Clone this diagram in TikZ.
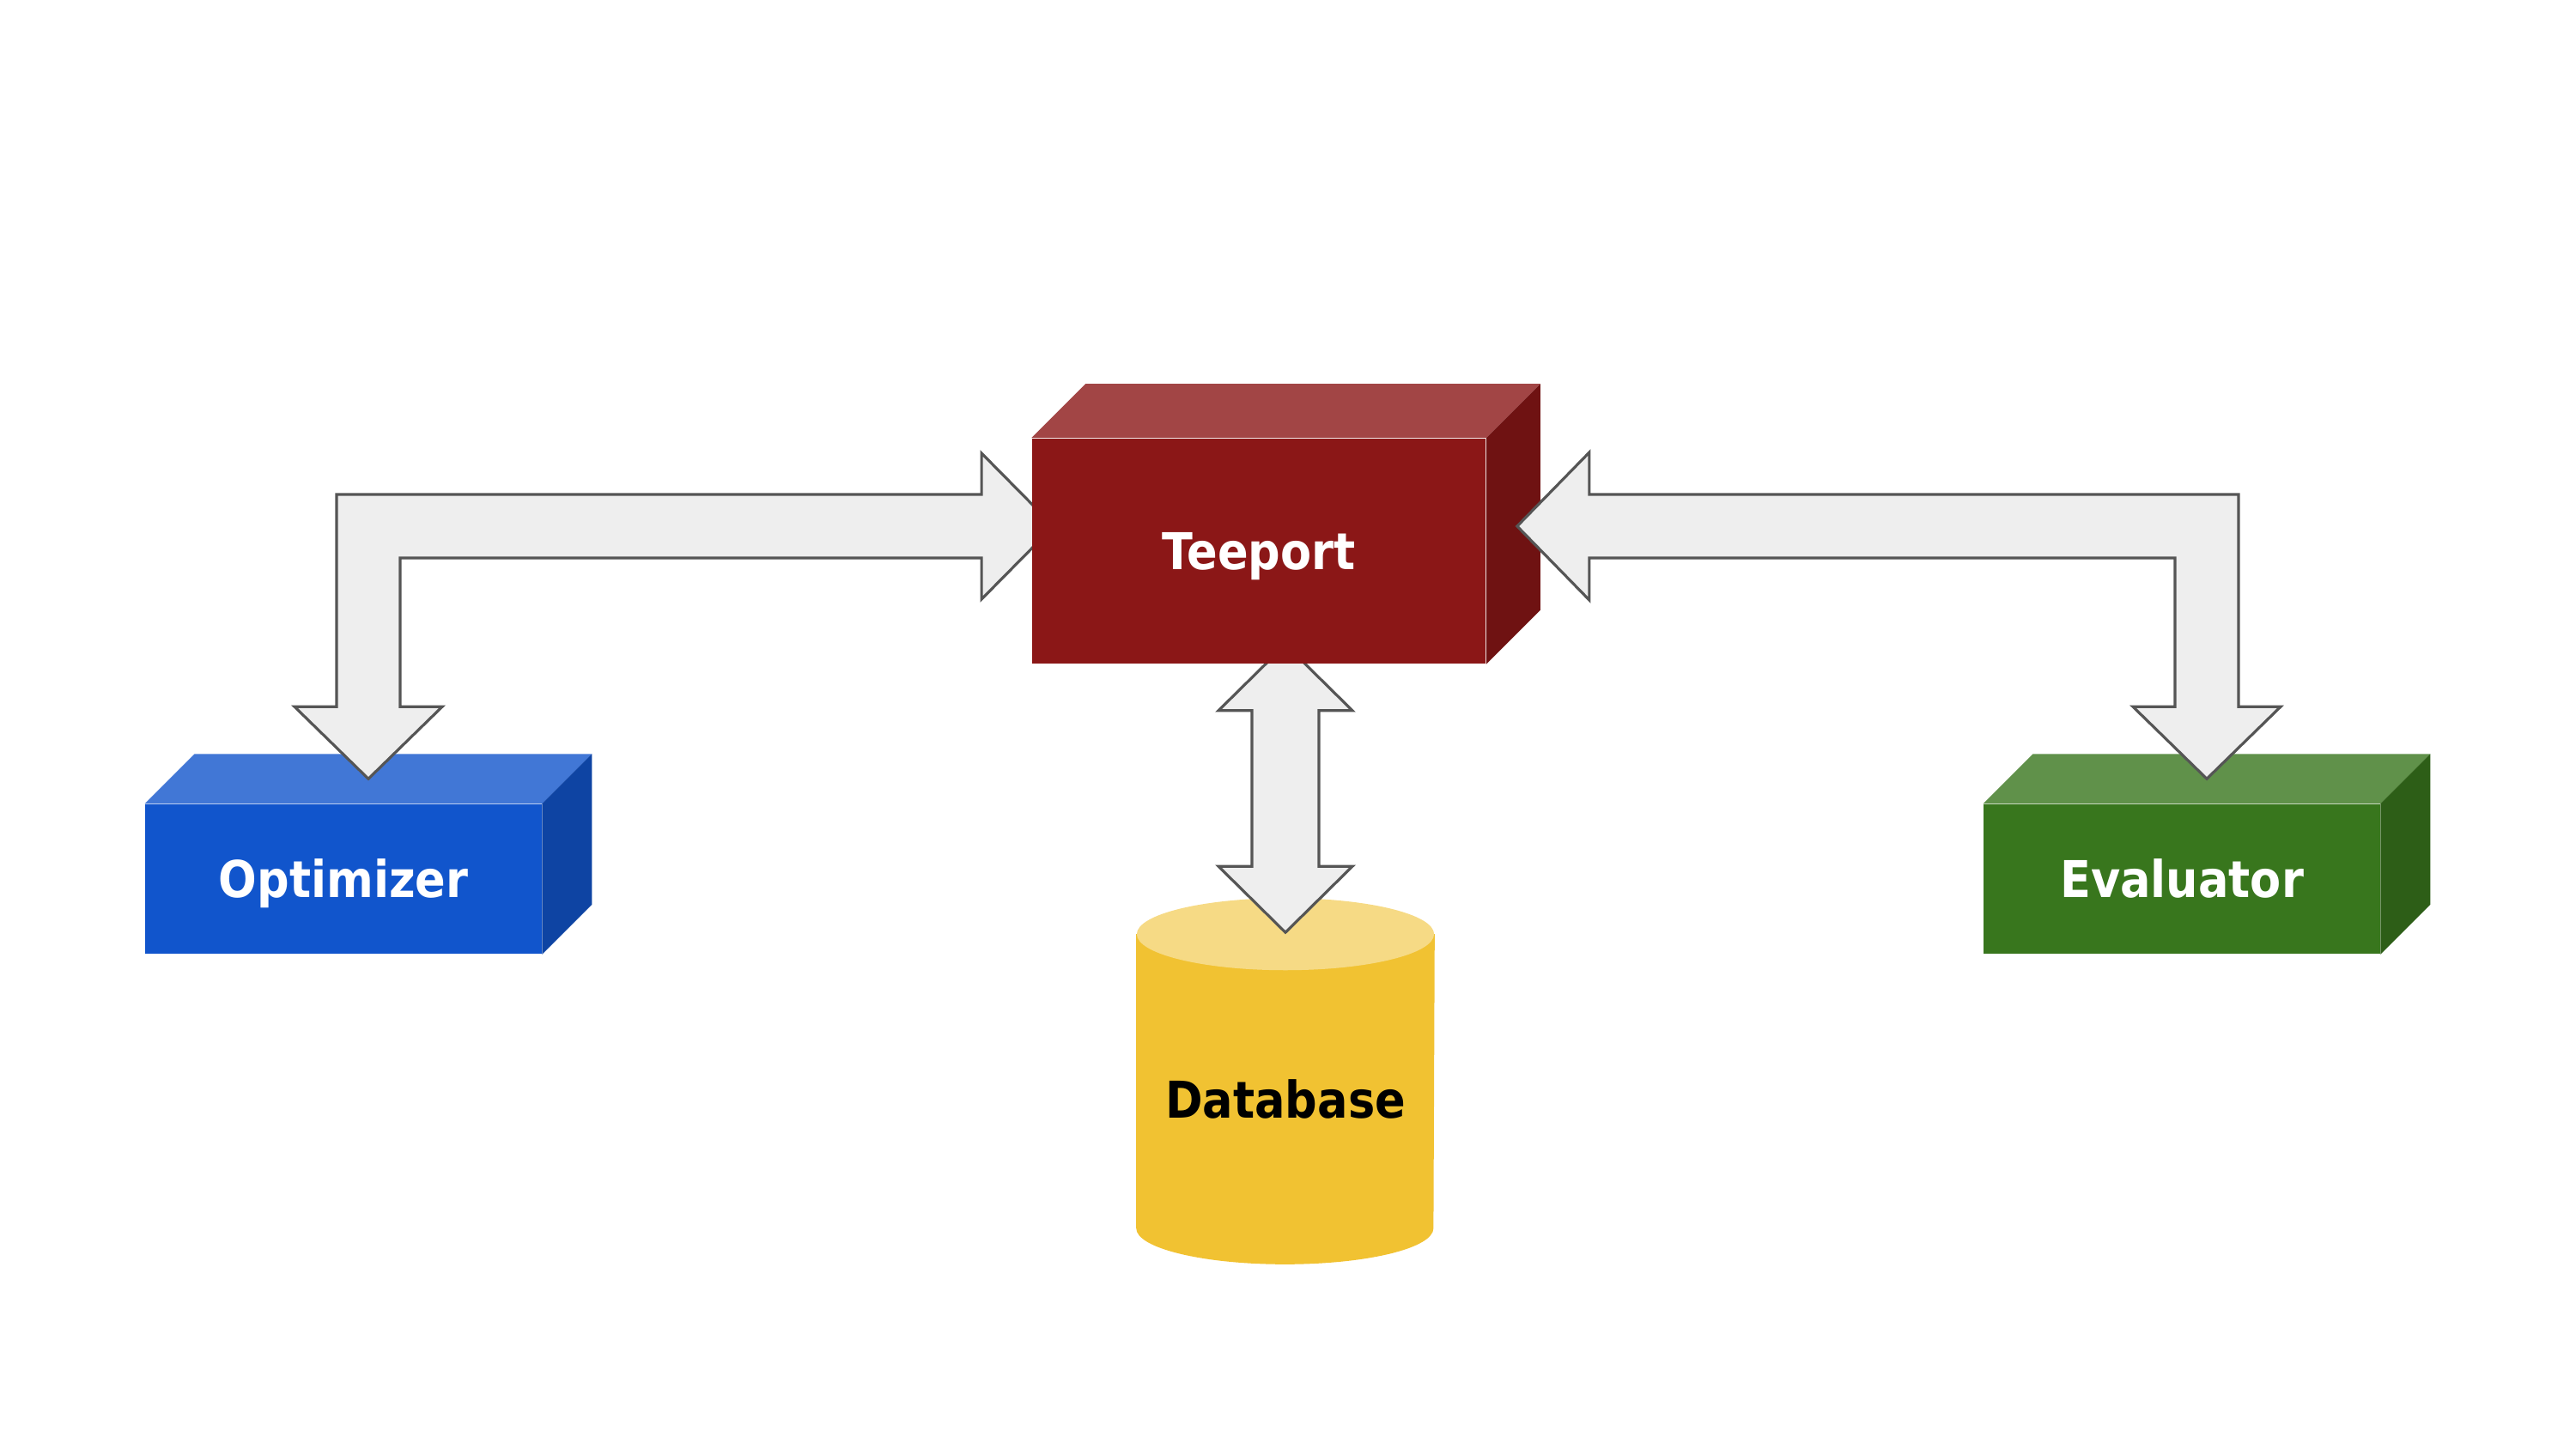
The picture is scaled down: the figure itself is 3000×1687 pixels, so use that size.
\documentclass[tikz,border=0pt]{standalone}
\usepackage{fontspec}
\usepackage{tikz}
\usetikzlibrary{positioning,calc}
\newfontfamily\labelfont[FakeStretch=0.89]{DejaVu Sans}

\definecolor{teered}{HTML}{8B1717}
\definecolor{optblue}{HTML}{1155CC}
\definecolor{evalgreen}{HTML}{38761D}
\definecolor{dbyellow}{HTML}{F1C232}
\definecolor{dbtop}{HTML}{F6DA85}
\definecolor{arrowfill}{HTML}{EEEEEE}
\definecolor{arrowline}{HTML}{555555}

\pgfdeclarelayer{back}
\pgfdeclarelayer{front}
\pgfsetlayers{back,main,front}

% top and right faces of a block: node, colour, depth
\def\sides#1#2#3{%
  \fill[#2!80!white] (#1.north west) -- ++(#3,-#3) -- ($(#1.north east)+(#3,-#3)$) -- (#1.north east) -- cycle;
  \fill[#2!80!black] (#1.north east) -- ++(#3,-#3) -- ($(#1.south east)+(#3,-#3)$) -- (#1.south east) -- cycle;}

\begin{document}
\begin{tikzpicture}[x=0.01cm, y=-0.01cm,
                    block/.style = {rectangle, inner sep=0pt, text=white,
                      font=\labelfont\bfseries\fontsize{16.8}{20}\selectfont,
                      text height=0.43cm, text depth=0pt},
                    flow/.style = {draw=arrowline, fill=arrowfill,
                      line width=0.9pt, line join=miter}]
\useasboundingbox (0,0) rectangle (3000,1687);

\begin{pgfonlayer}{front}
  \node[block, fill=teered, minimum width=5.28cm, minimum height=2.62cm] (tee) at (1466,642) {Teeport};
  \sides{tee}{teered}{63}
\end{pgfonlayer}

\node[block, fill=optblue, minimum width=4.61cm, minimum height=1.74cm] (opt) at (400,1024) {Optimizer};
\sides{opt}{optblue}{58}
\node[block, fill=evalgreen, minimum width=4.61cm, minimum height=1.74cm] (eval) at (2541,1024) {Evaluator};
\sides{eval}{evalgreen}{58}

% database
\node[block, text=black, minimum width=3.46cm, minimum height=2.98cm] (db) at (1497,1281) {Database};
\begin{pgfonlayer}{back}
  \fill[dbyellow] ($(db.north west)+(0,-43)$) -- (db.south west)
    arc[start angle=180, end angle=360, x radius=1.73cm, y radius=0.42cm]
    -- ($(db.north east)+(0,-43)$) -- cycle;
  \fill[dbtop] ($(db.north)+(0,-43)$) ellipse[x radius=1.73cm, y radius=0.42cm];
\end{pgfonlayer}

% tee <-> optimizer
\coordinate (lt1) at ($(tee.west)+(26,-29)$);
\coordinate (lt2) at ($(opt.north)+(29,-29)$);
\draw[flow] (lt1) -- ++(-84,-85) -- ++(0,48) -- ($(lt2 |- lt1)+(-37,-37)$)
  -- ($(lt2)+(-37,-84)$) -- ++(-49,0) -- (lt2) -- ++(86,-84) -- ++(-49,0)
  -- ($(lt2 |- lt1)+(37,37)$) -- ($(lt1)+(-84,37)$) -- ++(0,48) -- cycle;

% tee <-> database
\coordinate (dbtail) at ($(db.north |- tee.south)+(0,-23)$);
\coordinate (dbtip) at ($(db.north)+(0,-45)$);
\draw[flow] (dbtail) -- ++(78,77) -- ++(-39,0) -- ($(dbtip)+(39,-77)$) -- ++(39,0)
  -- (dbtip) -- ++(-78,-77) -- ++(39,0) -- ($(dbtail)+(-39,77)$) -- ++(-39,0) -- cycle;

% tee <-> evaluator
\begin{pgfonlayer}{front}
  \coordinate (rt1) at ($(tee.east)+(36,-29)$);
  \coordinate (rt2) at ($(eval.north)+(29,-29)$);
  \draw[flow] (rt1) -- ++(84,-86) -- ++(0,49) -- ($(rt2 |- rt1)+(37,-37)$)
    -- ($(rt2)+(37,-84)$) -- ++(49,0) -- (rt2) -- ++(-86,-84) -- ++(49,0)
    -- ($(rt2 |- rt1)+(-37,37)$) -- ($(rt1)+(84,37)$) -- ++(0,49) -- cycle;
\end{pgfonlayer}
\end{tikzpicture}
\end{document}
